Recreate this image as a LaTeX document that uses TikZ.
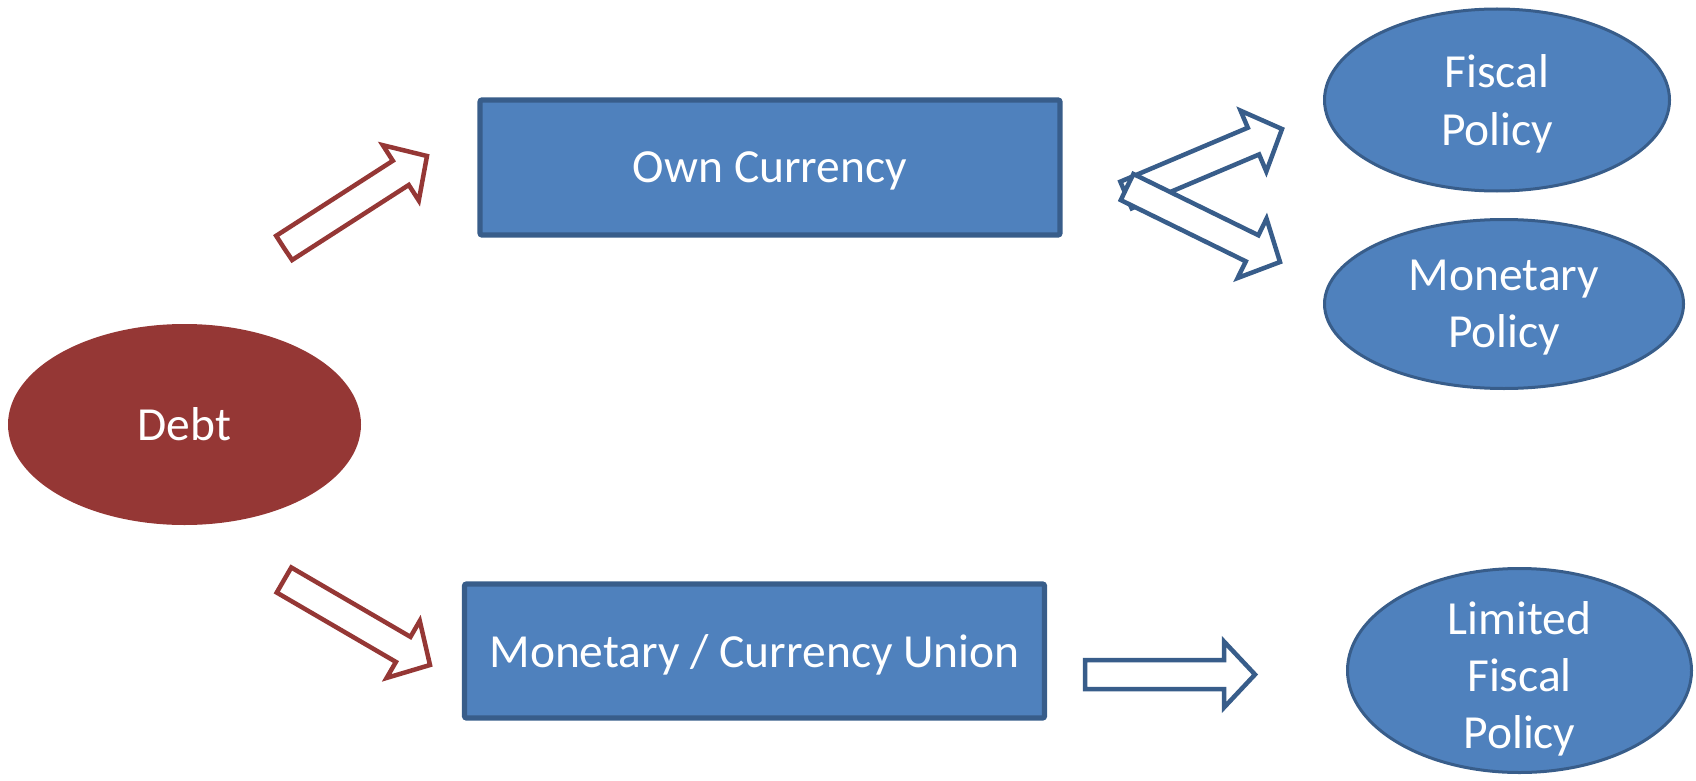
\documentclass[tikz,border=0pt]{standalone}
\usepackage{fontspec}
\setmainfont{Carlito}
\usepackage{tikz}
\usetikzlibrary{calc, shapes.geometric}

\definecolor{boxblue}{HTML}{4F81BD}
\definecolor{edgeblue}{HTML}{385D8A}
\definecolor{debtred}{HTML}{953735}

\begin{document}
\begin{tikzpicture}[
  x=0.5pt, y=-0.5pt,
  txt/.style={text=white, text depth=0pt, font=\fontsize{23.75}{28.7}\selectfont},
  box/.style={rectangle, draw=edgeblue, line width=2.6pt, fill=boxblue,
              rounded corners=1pt, txt,
              minimum width=290pt, minimum height=67.5pt},
  oval/.style={ellipse, draw=edgeblue, line width=1.5pt, fill=boxblue,
               align=center, inner sep=0pt, txt},
  debtoval/.style={oval, draw=none, fill=debtred},
  blkarr/.style={draw=#1, fill=white, line width=2.25pt,
    to path={let \p1=(\tikztostart), \p2=(\tikztotarget),
                 \n1={atan2(\y2-\y1,\x2-\x1)},
                 \n2={veclen(\x2-\x1,\y2-\y1)} in
      (\p1) -- ++(\n1+90:7.25pt) -- ++(\n1:{\n2-15.5pt})
      -- ++(\n1+90:9.25pt) -- (\p2)
      -- ($(\p2)+(\n1+180:15.5pt)+(\n1-90:16.5pt)$)
      -- ++(\n1+90:9.25pt) -- ++(\n1+180:{\n2-15.5pt}) -- cycle}},
  blkarr/.default=edgeblue
]
\useasboundingbox (0,0) rectangle (1696,781);

% Start and end boxes
\node[debtoval, minimum width=176.5pt, minimum height=100.5pt] (debt)
  at (184.5,424.5) {Debt};
\node[box] (own) at (770,167.5) {Own Currency};
\node[box, minimum height=67pt] (union) at (754.5,651) {Monetary / Currency Union};

% Policy ovals
\node[oval, minimum width=172.5pt, minimum height=91pt] (fiscal)
  at (1497,100) {Fiscal\\Policy};
\node[oval, minimum width=179.5pt, minimum height=84.5pt] (monpol)
  at (1504,304) {Monetary\\Policy};
\node[oval, inner ysep=-5pt, minimum width=172pt, minimum height=102pt] (limited)
  at (1519.5,670.5) {\rule{0pt}{21pt}Limited\\Fiscal\\Policy};

% Free ends of the block arrows
\coordinate (debtup)   at (284,248);
\coordinate (ownin)    at (427,156);
\coordinate (debtdn)   at (284,580);
\coordinate (unionin)  at (430,665);
\coordinate (ownout1)  at (1126,195);
\coordinate (fiscalin) at (1282,129);
\coordinate (ownout2)  at (1127,187);
\coordinate (monin)    at (1280,262);
\coordinate (unionout) at (1085,674.5);
\coordinate (limin)    at (1255,674.5);

% Block arrows
\draw[blkarr=debtred] (debtup) to (ownin);
\draw[blkarr=debtred] (debtdn) to (unionin);
\draw[blkarr] (ownout1) to (fiscalin);
\draw[blkarr] (ownout2) to (monin);
\draw[blkarr] (unionout) to (limin);

\end{tikzpicture}
\end{document}
